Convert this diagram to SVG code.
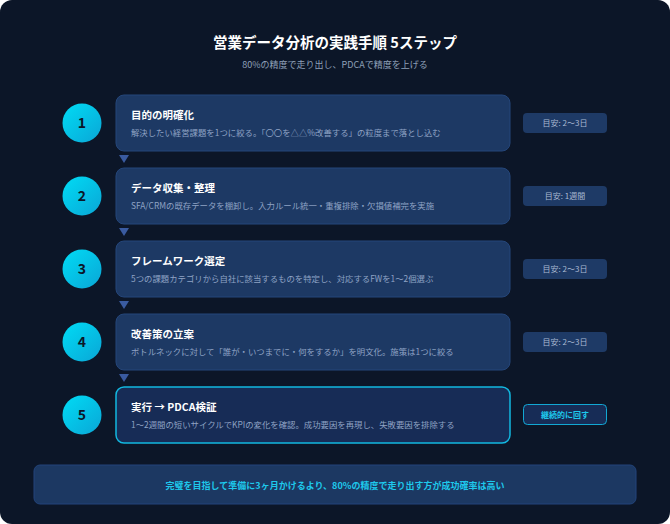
<svg xmlns="http://www.w3.org/2000/svg" width="670" height="524" viewBox="0 0 670 524">
<defs>
<linearGradient id="cg" x1="0" y1="0" x2="1" y2="1">
<stop offset="0" stop-color="#00dcf5"/>
<stop offset="1" stop-color="#0aa6d6"/>
</linearGradient>
<style>
.t{font-family:"Noto Sans CJK JP","Noto Sans",sans-serif}
.card{fill:#1d3964;stroke:#25467a;stroke-width:1}
.card5{fill:#172c56;stroke:#12b8e0;stroke-width:1.5}
.num{font-size:14px;font-weight:700;fill:#0c1628;text-anchor:middle}
.ttl{font-size:10.5px;font-weight:700;fill:#ffffff}
.dsc{font-size:8.4px;fill:#8fa3c4}
.badge{fill:#1e3a66}
.bt{font-size:8px;fill:#a9b9d2;text-anchor:middle}
.tri{fill:#3a5ba0}
</style>
</defs>
<rect x="0" y="0" width="670" height="524" rx="12" fill="#0c1628"/>
<text class="t" x="335" y="48" text-anchor="middle" font-size="14.5" font-weight="700" fill="#ffffff">営業データ分析の実践手順 5ステップ</text>
<text class="t" x="335" y="68" text-anchor="middle" font-size="9" fill="#8fa0b8">80%の精度で走り出し、PDCAで精度を上げる</text>

<g id="connectors">
<polygon class="tri" points="119,155 129,155 124,163"/>
<polygon class="tri" points="119,228 129,228 124,236"/>
<polygon class="tri" points="119,301 129,301 124,309"/>
<polygon class="tri" points="119,374 129,374 124,382"/>
</g>

<g id="step1">
<circle cx="82" cy="123" r="19.5" fill="url(#cg)"/>
<text class="t num" x="82" y="128">1</text>
<rect class="card" x="116" y="95" width="394" height="56" rx="8"/>
<text class="t ttl" x="131" y="119">目的の明確化</text>
<text class="t dsc" x="131" y="136">解決したい経営課題を1つに絞る。「〇〇を△△%改善する」の粒度まで落とし込む</text>
<rect class="badge" x="523" y="113" width="84" height="20" rx="4"/>
<text class="t bt" x="565" y="126">目安: 2〜3日</text>
</g>

<g id="step2">
<circle cx="82" cy="196" r="19.5" fill="url(#cg)"/>
<text class="t num" x="82" y="201">2</text>
<rect class="card" x="116" y="168" width="394" height="56" rx="8"/>
<text class="t ttl" x="131" y="192">データ収集・整理</text>
<text class="t dsc" x="131" y="209">SFA/CRMの既存データを棚卸し。入力ルール統一・重複排除・欠損値補完を実施</text>
<rect class="badge" x="523" y="186" width="84" height="20" rx="4"/>
<text class="t bt" x="565" y="199">目安: 1週間</text>
</g>

<g id="step3">
<circle cx="82" cy="269" r="19.5" fill="url(#cg)"/>
<text class="t num" x="82" y="274">3</text>
<rect class="card" x="116" y="241" width="394" height="56" rx="8"/>
<text class="t ttl" x="131" y="265">フレームワーク選定</text>
<text class="t dsc" x="131" y="282">5つの課題カテゴリから自社に該当するものを特定し、対応するFWを1〜2個選ぶ</text>
<rect class="badge" x="523" y="259" width="84" height="20" rx="4"/>
<text class="t bt" x="565" y="272">目安: 2〜3日</text>
</g>

<g id="step4">
<circle cx="82" cy="342" r="19.5" fill="url(#cg)"/>
<text class="t num" x="82" y="347">4</text>
<rect class="card" x="116" y="314" width="394" height="56" rx="8"/>
<text class="t ttl" x="131" y="338">改善策の立案</text>
<text class="t dsc" x="131" y="355">ボトルネックに対して「誰が・いつまでに・何をするか」を明文化。施策は1つに絞る</text>
<rect class="badge" x="523" y="332" width="84" height="20" rx="4"/>
<text class="t bt" x="565" y="345">目安: 2〜3日</text>
</g>

<g id="step5">
<circle cx="82" cy="415" r="19.5" fill="url(#cg)"/>
<text class="t num" x="82" y="420">5</text>
<rect class="card5" x="116" y="387" width="394" height="56" rx="8"/>
<text class="t ttl" x="131" y="411">実行 → PDCA検証</text>
<text class="t dsc" x="131" y="428">1〜2週間の短いサイクルでKPIの変化を確認。成功要因を再現し、失敗要因を排除する</text>
<rect x="523.5" y="404.5" width="83" height="20" rx="4" fill="#172c56" stroke="#12a8d4" stroke-width="1"/>
<text class="t" x="565" y="418" text-anchor="middle" font-size="8" font-weight="700" fill="#1ec8ec">継続的に回す</text>
</g>

<g id="banner">
<rect x="34" y="465" width="602" height="39" rx="6" fill="#1c3862" stroke="#22437a" stroke-width="1"/>
<text class="t" x="335" y="489" text-anchor="middle" font-size="9" font-weight="700" fill="#1ec8ec">完璧を目指して準備に3ヶ月かけるより、80%の精度で走り出す方が成功確率は高い</text>
</g>
</svg>
